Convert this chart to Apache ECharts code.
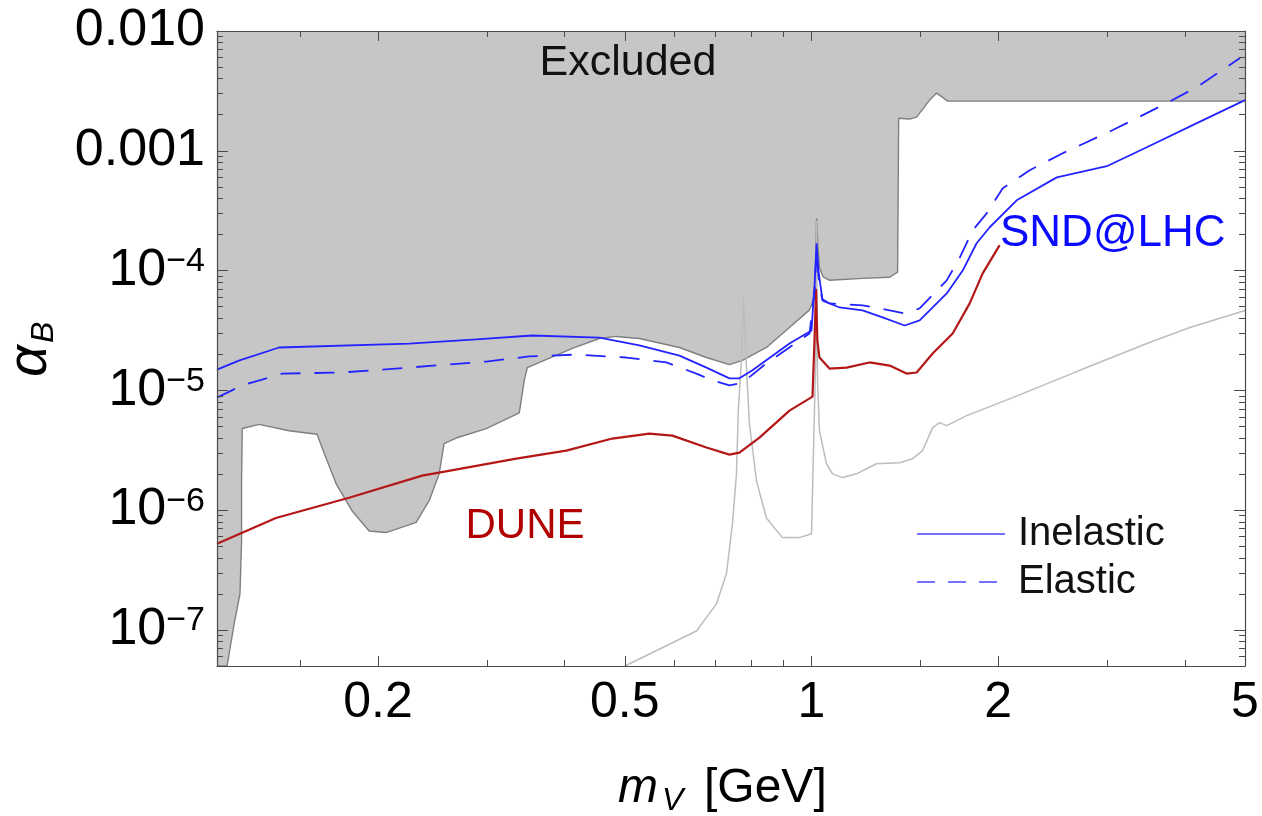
<!DOCTYPE html>
<html>
<head>
<meta charset="utf-8">
<title>alpha_B vs m_V</title>
<script src="https://cdn.jsdelivr.net/npm/echarts@6/dist/echarts.min.js"></script>
<style>
  html, body { margin: 0; padding: 0; background: #fff; }
  #chart { width: 1262px; height: 816px; }
</style>
</head>
<body>
<div id="chart"></div>
<script>
// axis ranges and ticks
const xRange = [0.11, 5];
const yRange = [5e-8, 0.01];
const xMajorTicks = [0.2, 0.5, 1, 2, 5];
const xMinorTicks = [0.15, 0.3, 0.4, 0.6, 0.7, 0.8, 0.9, 1.5, 3, 4];
const yMajorTicks = [1e-7, 1e-6, 1e-5, 1e-4, 1e-3, 1e-2];
const yMinorTicks = [
  6e-8, 7e-8, 8e-8, 9e-8,
  2e-7, 3e-7, 4e-7, 5e-7, 6e-7, 7e-7, 8e-7, 9e-7,
  2e-6, 3e-6, 4e-6, 5e-6, 6e-6, 7e-6, 8e-6, 9e-6,
  2e-5, 3e-5, 4e-5, 5e-5, 6e-5, 7e-5, 8e-5, 9e-5,
  2e-4, 3e-4, 4e-4, 5e-4, 6e-4, 7e-4, 8e-4, 9e-4,
  2e-3, 3e-3, 4e-3, 5e-3, 6e-3, 7e-3, 8e-3, 9e-3
];

// lower edge of the excluded region [m_V, alpha_B]
const excludedBoundary = [
  [0.11, 5e-8], [0.1142, 5e-8], [0.1172, 1.12e-7], [0.1198, 2.0e-7],
  [0.1205, 5.5e-7], [0.1205, 1.76e-6], [0.1207, 3.3e-6], [0.1208, 4.8e-6],
  [0.1286, 5.2e-6], [0.1437, 4.6e-6], [0.1595, 4.3e-6], [0.1637, 3.0e-6],
  [0.1712, 1.66e-6], [0.1816, 9.9e-7], [0.1935, 6.7e-7], [0.2061, 6.5e-7],
  [0.2304, 7.9e-7], [0.2418, 1.2e-6], [0.2509, 2.0e-6], [0.2556, 3.6e-6],
  [0.2673, 4.0e-6], [0.2989, 4.8e-6], [0.3379, 6.5e-6], [0.3442, 1.21e-5],
  [0.3481, 1.55e-5], [0.4115, 2.24e-5], [0.4548, 2.71e-5], [0.4845, 2.82e-5],
  [0.5277, 2.71e-5], [0.6124, 2.28e-5], [0.677, 1.88e-5], [0.7374, 1.64e-5],
  [0.7738, 1.78e-5], [0.8458, 2.28e-5], [0.9215, 3.35e-5], [0.9926, 4.7e-5],
  [1.012, 6.0e-5], [1.016, 1.5e-4], [1.019, 2.73e-4], [1.024, 1.6e-4],
  [1.03, 1.05e-4], [1.045, 8.8e-5], [1.07, 8.3e-5], [1.2087, 8.6e-5],
  [1.3365, 8.8e-5], [1.3767, 9.7e-5], [1.382, 1.87e-3], [1.4393, 1.84e-3],
  [1.4774, 1.91e-3], [1.5505, 2.65e-3], [1.5914, 3.03e-3], [1.658, 2.6e-3],
  [5, 2.6e-3]
];

// thin grey curve with the rho / phi peaks
const decayCurve = [
  [0.5, 5e-8], [0.5746, 7.1e-8], [0.6523, 9.8e-8], [0.7025, 1.65e-7],
  [0.7291, 2.94e-7], [0.7456, 7.7e-7], [0.7568, 2.0e-6], [0.7624, 7.2e-6],
  [0.7709, 1.77e-5], [0.7768, 6.0e-5], [0.7854, 1.55e-5], [0.794, 5.3e-6],
  [0.8151, 1.76e-6], [0.8458, 8.6e-7], [0.8979, 5.9e-7], [0.9564, 5.9e-7],
  [1.0, 6.35e-7], [1.0037, 6.4e-7], [1.016, 2.0e-5], [1.019, 2.6e-4],
  [1.0226, 1.2e-5], [1.03, 4.6e-6], [1.057, 2.44e-6], [1.081, 2.01e-6],
  [1.122, 1.87e-6], [1.182, 2.01e-6], [1.273, 2.44e-6], [1.387, 2.49e-6],
  [1.456, 2.69e-6], [1.51, 3.14e-6], [1.568, 4.89e-6], [1.609, 5.38e-6],
  [1.652, 5.08e-6], [1.779, 6.15e-6], [2.111, 8.7e-6], [2.707, 1.47e-5],
  [3.473, 2.46e-5], [4.074, 3.35e-5], [5.0, 4.65e-5]
];

// SND@LHC, inelastic (solid)
const sndInelastic = [
  [0.11, 1.49e-5], [0.1193, 1.77e-5], [0.1385, 2.28e-5], [0.2245, 2.46e-5],
  [0.288, 2.66e-5], [0.3546, 2.87e-5], [0.4548, 2.76e-5], [0.5277, 2.37e-5],
  [0.6124, 1.95e-5], [0.677, 1.55e-5], [0.7374, 1.26e-5], [0.7652, 1.26e-5],
  [0.803, 1.47e-5], [0.9215, 2.46e-5], [1.0, 3.16e-5], [1.012, 8e-5],
  [1.019, 1.69e-4], [1.026, 1.0e-4], [1.042, 5.6e-5], [1.11, 4.92e-5],
  [1.2087, 4.65e-5], [1.302, 4.06e-5], [1.413, 3.48e-5], [1.494, 3.84e-5],
  [1.652, 6.44e-5], [1.753, 1.0e-4], [1.846, 1.69e-4], [1.938, 2.3e-4],
  [2.142, 3.86e-4], [2.486, 6.0e-4], [2.993, 7.43e-4], [3.473, 1.07e-3],
  [4.182, 1.7e-3], [5.0, 2.65e-3]
];

// SND@LHC, elastic (dashed)
const sndElastic = [
  [0.11, 8.7e-6], [0.1207, 1.1e-5], [0.13, 1.23e-5], [0.14, 1.38e-5],
  [0.175, 1.41e-5], [0.2245, 1.55e-5], [0.2989, 1.74e-5], [0.3507, 1.92e-5],
  [0.4175, 1.99e-5], [0.5029, 1.88e-5], [0.5834, 1.71e-5], [0.6523, 1.38e-5],
  [0.6921, 1.21e-5], [0.7374, 1.1e-5], [0.7738, 1.16e-5], [0.8458, 1.68e-5],
  [0.9926, 2.98e-5], [1.012, 7e-5], [1.019, 1.5e-4], [1.026, 9e-5],
  [1.04, 5.8e-5], [1.069, 5.32e-5], [1.2087, 5.12e-5], [1.288, 4.83e-5],
  [1.413, 4.39e-5], [1.494, 4.83e-5], [1.652, 8.28e-5], [1.734, 1.28e-4],
  [1.819, 2.17e-4], [1.916, 3.0e-4], [2.034, 4.86e-4], [2.248, 6.88e-4],
  [2.542, 9.55e-4], [3.061, 1.49e-3], [3.686, 2.41e-3], [4.182, 3.4e-3],
  [4.908, 5.94e-3]
];

// DUNE (dark red)
const duneCurve = [
  [0.11, 5.24e-7], [0.1369, 8.6e-7], [0.1796, 1.27e-6], [0.2356, 1.94e-6],
  [0.2509, 2.06e-6], [0.3341, 2.69e-6], [0.4023, 3.14e-6], [0.4773, 3.96e-6],
  [0.5476, 4.36e-6], [0.5966, 4.19e-6], [0.677, 3.33e-6], [0.7374, 2.91e-6],
  [0.7652, 3.02e-6], [0.8243, 4.03e-6], [0.9215, 6.78e-6], [1.0037, 8.87e-6],
  [1.012, 3e-5], [1.017, 7e-5], [1.022, 2.6e-5], [1.03, 1.88e-5],
  [1.069, 1.52e-5], [1.139, 1.55e-5], [1.24, 1.71e-5], [1.3365, 1.61e-5],
  [1.423, 1.38e-5], [1.4774, 1.41e-5], [1.568, 2.03e-5], [1.689, 2.98e-5],
  [1.799, 5.32e-5], [1.888, 9.48e-5], [2.011, 1.63e-4]
];

const FONT = '"Liberation Sans", Arial, sans-serif';
const FRAME = '#4a4a4a';
const BLUE = '#2323ff';
const LEGEND_BLUE = '#7373ff';

function xAxisDef(position, ticks, len, withLabels) {
  return {
    type: 'log', logBase: 10, min: xRange[0], max: xRange[1],
    position, z: 10,
    axisLine: { show: withLabels !== null, onZero: false, lineStyle: { color: FRAME, width: 1.2 } },
    axisTick: { show: true, inside: true, length: len, customValues: ticks, lineStyle: { color: FRAME, width: 1 } },
    axisLabel: withLabels ? {
      show: true, customValues: ticks, margin: 12, color: '#000', fontSize: 50, fontFamily: FONT,
      formatter: v => String(+v.toPrecision(3))
    } : { show: false },
    splitLine: { show: false }
  };
}

function yAxisDef(position, ticks, len, withLabels) {
  return {
    type: 'log', logBase: 10, min: yRange[0], max: yRange[1],
    position, z: 10,
    axisLine: { show: withLabels !== null, onZero: false, lineStyle: { color: FRAME, width: 1.2 } },
    axisTick: { show: true, inside: true, length: len, customValues: ticks, lineStyle: { color: FRAME, width: 1 } },
    axisLabel: withLabels ? {
      show: true, customValues: ticks, margin: 12, color: '#000', fontSize: 52, fontFamily: FONT,
      formatter: v => {
        const e = Math.round(Math.log10(v));
        if (e === -2) return '0.010';
        if (e === -3) return '0.001';
        return '{b|10}{s|\u2212' + (-e) + '}';
      },
      rich: {
        b: { fontSize: 52, fontFamily: FONT, color: '#000', lineHeight: 52 },
        s: { fontSize: 34, fontFamily: FONT, color: '#000', lineHeight: 34, verticalAlign: 'top' }
      }
    } : { show: false },
    splitLine: { show: false }
  };
}

const chart = echarts.init(document.getElementById('chart'), null, { renderer: 'canvas' });

chart.setOption({
  animation: false,
  backgroundColor: '#fff',
  grid: { left: 217, right: 17, top: 31, bottom: 150, containLabel: false },
  xAxis: [
    xAxisDef('bottom', xMajorTicks, 10, true),
    xAxisDef('bottom', xMinorTicks, 6, null),
    xAxisDef('top', xMajorTicks, 10, false),
    xAxisDef('top', xMinorTicks, 6, null)
  ],
  yAxis: [
    yAxisDef('left', yMajorTicks, 11, true),
    yAxisDef('left', yMinorTicks, 6, null),
    yAxisDef('right', yMajorTicks, 11, false),
    yAxisDef('right', yMinorTicks, 6, null)
  ],
  legend: {
    orient: 'vertical', left: 911, top: 509, itemWidth: 88, itemHeight: 14, itemGap: 8,
    selectedMode: false,
    textStyle: { fontSize: 40, fontFamily: FONT, color: '#111', padding: [0, 0, 0, 8] },
    data: [
      {
        name: 'Inelastic',
        itemStyle: { color: 'rgba(0,0,0,0)', borderWidth: 0 },
        lineStyle: { color: LEGEND_BLUE, width: 2, type: 'solid' }
      },
      {
        name: 'Elastic',
        itemStyle: { color: 'rgba(0,0,0,0)', borderWidth: 0 },
        lineStyle: { color: LEGEND_BLUE, width: 2, type: [18, 13] }
      }
    ]
  },
  series: [
    {
      name: 'Excluded', type: 'line', data: excludedBoundary, symbol: 'none', silent: true, z: 1,
      lineStyle: { color: '#7f7f7f', width: 1.4 },
      areaStyle: { origin: 'end', color: '#c6c6c6', opacity: 1 }
    },
    {
      name: 'decay', type: 'line', data: decayCurve, symbol: 'none', silent: true, z: 2,
      lineStyle: { color: '#bdbdbd', width: 1.5 }
    },
    {
      name: 'DUNE', type: 'line', data: duneCurve, symbol: 'none', silent: true, z: 3,
      lineStyle: { color: '#b31717', width: 2.2 }
    },
    {
      name: 'Elastic', type: 'line', data: sndElastic, symbol: 'none', silent: true, z: 4,
      itemStyle: { color: BLUE },
      lineStyle: { color: BLUE, width: 1.8, type: [20, 14] }
    },
    {
      name: 'Inelastic', type: 'line', data: sndInelastic, symbol: 'none', silent: true, z: 5,
      itemStyle: { color: BLUE },
      lineStyle: { color: BLUE, width: 1.8 }
    }
  ],
  graphic: [
    { type: 'text', x: 628, y: 63, z: 100, style: { text: 'Excluded', fontSize: 43, fontFamily: FONT, fill: '#111', align: 'center', verticalAlign: 'middle' } },
    { type: 'text', x: 1000, y: 234, z: 100, style: { text: 'SND@LHC', fontSize: 44, fontFamily: FONT, fill: '#0a0aff', align: 'left', verticalAlign: 'middle' } },
    { type: 'text', x: 525, y: 526, z: 100, style: { text: 'DUNE', fontSize: 42, fontFamily: FONT, fill: '#b00000', align: 'center', verticalAlign: 'middle' } },
    // x axis title: m_V [GeV]
    { type: 'text', x: 618, y: 789, z: 100, style: { text: 'm', fontSize: 48, fontStyle: 'italic', fontFamily: FONT, fill: '#000', align: 'left', verticalAlign: 'middle' } },
    { type: 'text', x: 662, y: 801, z: 100, style: { text: 'V', fontSize: 32, fontStyle: 'italic', fontFamily: FONT, fill: '#000', align: 'left', verticalAlign: 'middle' } },
    { type: 'text', x: 704, y: 789, z: 100, style: { text: '[GeV]', fontSize: 48, fontFamily: FONT, fill: '#000', align: 'left', verticalAlign: 'middle' } },
    // y axis title: alpha_B, rotated
    {
      type: 'group', x: 30, y: 377, rotation: Math.PI / 2, z: 100,
      children: [
        { type: 'text', x: 0, y: 0, style: { text: '\u03b1', fontSize: 56, fontStyle: 'italic', fontFamily: FONT, fill: '#000', align: 'left', verticalAlign: 'middle' } },
        { type: 'text', x: 34, y: 14, style: { text: 'B', fontSize: 32, fontStyle: 'italic', fontFamily: FONT, fill: '#000', align: 'left', verticalAlign: 'middle' } }
      ]
    }
  ]
});
</script>
</body>
</html>
